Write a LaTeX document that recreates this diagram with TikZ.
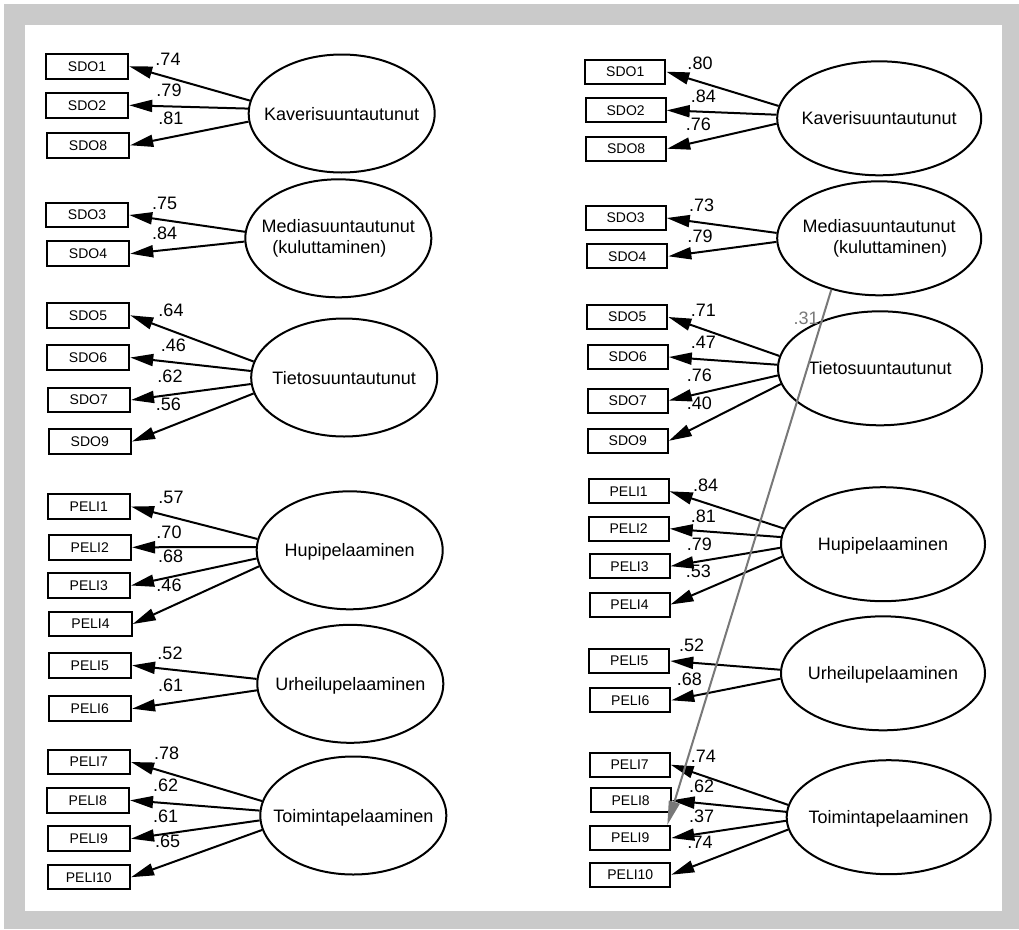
\documentclass[tikz,border=0pt]{standalone}
\usepackage{fontspec}
\setmainfont{Liberation Sans}
\usetikzlibrary{arrows.meta,shapes.geometric}
\definecolor{framegray}{RGB}{202,202,202}
\definecolor{linkgray}{RGB}{120,120,120}
\tikzset{
  box/.style={draw, line width=2pt, inner sep=0pt, minimum width=82.5pt, minimum height=24.5pt, font=\fontsize{14}{16}\selectfont},
  rbox/.style={box, minimum width=80pt, minimum height=24pt},
  lat/.style={draw, ellipse, line width=2pt, inner sep=0pt, minimum width=186pt, minimum height=118pt},
  rlat/.style={lat, minimum width=204pt, minimum height=114pt},
  ltxt/.style={inner sep=0pt, font=\fontsize{18}{21}\selectfont, text height=13pt, text depth=0pt},
  ltxtm/.style={inner sep=0pt, font=\fontsize{18}{21}\selectfont, align=center},
  ld/.style={line width=2pt, -{Triangle[length=23pt,width=12pt]}},
  lab/.style={inner sep=0pt, font=\fontsize{18}{20}\selectfont},
  glab/.style={lab, text=linkgray},
  glink/.style={line width=2pt, draw=linkgray, -{Triangle[length=24pt,width=11pt,fill=linkgray]}}
}
\newcommand\mylbl[3]{\node[lab] (#1) at (#2) {#3};}
\begin{document}
\begin{tikzpicture}[x=1pt,y=-1pt]
\useasboundingbox (0,0) rectangle (1019,929);
\fill[white] (0,0) rectangle (1019,929);
\fill[framegray] (4,4) rectangle (1019,929);
\fill[white] (25,25) rectangle (1001.7,910.7);

% ---------------- left model ----------------
\node[box] (lS1) at (87,66.3) {SDO1};
\node[box] (lS2) at (87,105.3) {SDO2};
\node[box] (lS8) at (88,145.3) {SDO8};
\node[box] (lS3) at (87,215) {SDO3};
\node[box] (lS4) at (88,253.7) {SDO4};
\node[box] (lS5) at (88,315.3) {SDO5};
\node[box] (lS6) at (88,357.5) {SDO6};
\node[box] (lS7) at (88.8,400) {SDO7};
\node[box] (lS9) at (89.8,441.5) {SDO9};
\node[box] (lP1) at (88.8,506.5) {PELI1};
\node[box] (lP2) at (89.8,547.3) {PELI2};
\node[box] (lP3) at (88.8,585.5) {PELI3};
\node[box] (lP4) at (90.5,624) {PELI4};
\node[box] (lP5) at (89.8,665.3) {PELI5};
\node[box] (lP6) at (89.8,708.7) {PELI6};
\node[box] (lP7) at (88.8,762) {PELI7};
\node[box] (lP8) at (87.8,800.3) {PELI8};
\node[box] (lP9) at (88.8,838.7) {PELI9};
\node[box] (lP10) at (88.8,877.2) {PELI10};

\node[lat] (lK) at (341.7,113.5) {};
\node[lat] (lM) at (338.3,238.3) {};
\node[lat] (lT) at (344.2,377.5) {};
\node[lat] (lH) at (349.7,550.3) {};
\node[lat] (lU) at (350.3,683.8) {};
\node[lat] (lTo) at (353.3,815.5) {};
\node[ltxt] (lKt) at (lK) {Kaverisuuntautunut};
\node[ltxtm] (lMt) at (lM) {Mediasuuntautunut\\\hspace*{-18pt}(kuluttaminen)};
\node[ltxt] (lTt) at (lT) {Tietosuuntautunut};
\node[ltxt] (lHt) at (lH) {Hupipelaaminen};
\node[ltxt] (lUt) at (lU) {Urheilupelaaminen};
\node[ltxt] (lTot) at (lTo) {Toimintapelaaminen};

\draw[ld] (lK.172.6) -- (lS1.east);
\draw[ld] (lK.177.2) -- (lS2.east);
\draw[ld] (lK.185.1) -- (lS8.east);
\draw[ld] (lM.176.3) -- (lS3.east);
\draw[ld] (lM.182.5) -- (lS4.east);
\draw[ld] (lT.170.0) -- (lS5.east);
\draw[ld] (lT.176.4) -- (lS6.east);
\draw[ld] (lT.184.0) -- (lS7.east);
\draw[ld] (lT.190.0) -- (lS9.east);
\draw[ld] (lH.173.1) -- (lP1.east);
\draw[ld] (lH.178.8) -- (lP2.east);
\draw[ld] (lH.185.6) -- (lP3.east);
\draw[ld] (lH.190.8) -- (lP4.east);
\draw[ld] (lU.177.7) -- (lP5.east);
\draw[ld] (lU.184.9) -- (lP6.east);
\draw[ld] (lTo.171.7) -- (lP7.east);
\draw[ld] (lTo.177.2) -- (lP8.east);
\draw[ld] (lTo.183.4) -- (lP9.east);
\draw[ld] (lTo.189.6) -- (lP10.east);

\mylbl{la1}{168,59.3}{.74}
\mylbl{la2}{169,90.7}{.79}
\mylbl{la3}{170.8,118.3}{.81}
\mylbl{la4}{164.7,203}{.75}
\mylbl{la5}{164.7,233}{.84}
\mylbl{la6}{171,310.7}{.64}
\mylbl{la7}{173.3,345.7}{.46}
\mylbl{la8}{170,376.7}{.62}
\mylbl{la9}{168.3,404.3}{.56}
\mylbl{la10}{171,497.3}{.57}
\mylbl{la11}{169,532.3}{.70}
\mylbl{la12}{170.7,556.7}{.68}
\mylbl{la13}{169,585}{.46}
\mylbl{la14}{170,653.3}{.52}
\mylbl{la15}{170.7,685}{.61}
\mylbl{la16}{166.7,753.3}{.78}
\mylbl{la17}{165.7,785.7}{.62}
\mylbl{la18}{165.7,816}{.61}
\mylbl{la19}{167.7,841.7}{.65}

% ---------------- right model ----------------
\node[rbox] (rS1) at (625.3,71.7) {SDO1};
\node[rbox] (rS2) at (625.7,110.3) {SDO2};
\node[rbox] (rS8) at (626.2,148.7) {SDO8};
\node[rbox] (rS3) at (625.7,218) {SDO3};
\node[rbox] (rS4) at (627.3,256.3) {SDO4};
\node[rbox] (rS5) at (627.3,317) {SDO5};
\node[rbox] (rS6) at (627.8,357) {SDO6};
\node[rbox] (rS7) at (627.8,400.5) {SDO7};
\node[rbox] (rS9) at (627.8,440.8) {SDO9};
\node[rbox] (rP1) at (628.7,491.3) {PELI1};
\node[rbox] (rP2) at (628.7,528.7) {PELI2};
\node[rbox] (rP3) at (629.5,566.2) {PELI3};
\node[rbox] (rP4) at (629.5,604.5) {PELI4};
\node[rbox] (rP5) at (629.3,661) {PELI5};
\node[rbox] (rP6) at (630.3,700.3) {PELI6};
\node[rbox] (rP7) at (629.7,764.7) {PELI7};
\node[rbox] (rP8) at (630.7,800.3) {PELI8};
\node[rbox] (rP9) at (630.3,838) {PELI9};
\node[rbox] (rP10) at (630.3,874.7) {PELI10};

\node[rlat] (rK) at (879.2,118.3) {};
\node[rlat] (rM) at (879.2,238.3) {};
\node[rlat] (rT) at (880,368.3) {};
\node[rlat] (rH) at (883,544.2) {};
\node[rlat] (rU) at (883,673.3) {};
\node[rlat] (rTo) at (888.7,817.2) {};
\node[ltxt] (rKt) at (rK) {Kaverisuuntautunut};
\node[ltxtm] (rMt) at (rM) {Mediasuuntautunut\\\hspace*{22pt}(kuluttaminen)};
\node[ltxt] (rTt) at (rT) {Tietosuuntautunut};
\node[ltxt] (rHt) at (rH) {Hupipelaaminen};
\node[ltxt] (rUt) at (rU) {Urheilupelaaminen};
\node[ltxt] (rTot) at (rTo) {Toimintapelaaminen};

\draw[ld] (rK.173.7) -- (rS1.east);
\draw[ld] (rK.178.5) -- (rS2.east);
\draw[ld] (rK.183.8) -- (rS8.east);
\draw[ld] (rM.177.2) -- (rS3.east);
\draw[ld] (rM.182.8) -- (rS4.east);
\draw[ld] (rT.173.0) -- (rS5.east);
\draw[ld] (rT.178.1) -- (rS6.east);
\draw[ld] (rT.184.2) -- (rS7.east);
\draw[ld] (rT.189.7) -- (rS9.east);
\draw[ld] (rH.171.8) -- (rP1.east);
\draw[ld] (rH.176.7) -- (rP2.east);
\draw[ld] (rH.182.3) -- (rP3.east);
\draw[ld] (rH.187.5) -- (rP4.east);
\draw[ld] (rU.178.1) -- (rP5.east);
\draw[ld] (rU.183.8) -- (rP6.east);
\draw[ld] (rTo.173.0) -- (rP7.east);
\draw[ld] (rTo.177.8) -- (rP8.east);
\draw[ld] (rTo.182.5) -- (rP9.east);
\draw[ld] (rTo.187.3) -- (rP10.east);

\mylbl{ra1}{700,63.3}{.80}
\mylbl{ra2}{703.3,96.7}{.84}
\mylbl{ra3}{698.3,124}{.76}
\mylbl{ra4}{701.7,205}{.73}
\mylbl{ra5}{700,236}{.79}
\mylbl{ra6}{703.3,310}{.71}
\mylbl{ra7}{703.3,342.7}{.47}
\mylbl{ra8}{699.3,375}{.76}
\mylbl{ra9}{699.3,403.3}{.40}
\mylbl{ra10}{705.7,485.7}{.84}
\mylbl{ra11}{703.3,516}{.81}
\mylbl{ra12}{699.3,544.3}{.79}
\mylbl{ra13}{698.3,571}{.53}
\mylbl{ra14}{691.7,645.7}{.52}
\mylbl{ra15}{689.3,679.3}{.68}
\mylbl{ra16}{703.3,756.7}{.74}
\mylbl{ra17}{701.7,786.7}{.62}
\mylbl{ra18}{701.7,816}{.37}
\mylbl{ra19}{700,842.7}{.74}

% cross-loading
\draw[glink] (rM.227.8) -- ([xshift=-4pt]rP9.north east);
\node[glab] (ra20) at (806,318.3) {.31};
\end{tikzpicture}
\end{document}
